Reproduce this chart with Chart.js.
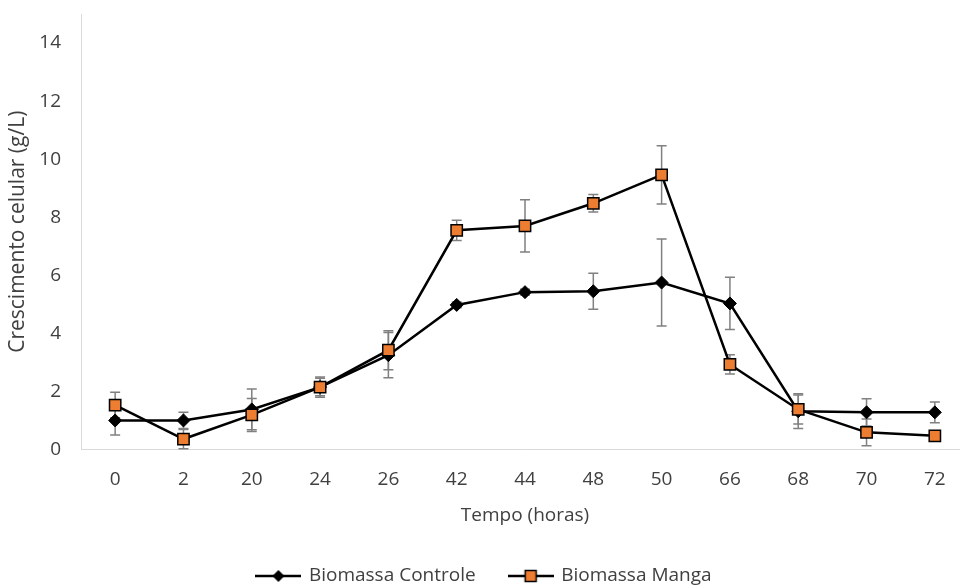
<!DOCTYPE html>
<html>
<head>
<meta charset="utf-8">
<script src="https://cdn.jsdelivr.net/npm/chart.js@4"></script>
<style>
  html, body { margin: 0; padding: 0; background: #fff; overflow: hidden; }
  #wrap { width: 970px; height: 585px; }
</style>
</head>
<body>
<div id="wrap"><canvas id="c" width="970" height="585"></canvas></div>
<script>
// ---- data ----
const categories = ['0', '2', '20', '24', '26', '42', '44', '48', '50', '66', '68', '70', '72'];
const controle    = [1.00, 1.00, 1.38, 2.15, 3.25, 4.98, 5.42, 5.45, 5.75, 5.03, 1.32, 1.28, 1.28];
const controleErr = [0.50, 0.28, 0.70, 0.35, 0.78, 0.10, 0.10, 0.62, 1.50, 0.90, 0.60, 0.47, 0.36];
const manga       = [1.53, 0.36, 1.19, 2.15, 3.42, 7.55, 7.70, 8.48, 9.46, 2.93, 1.38, 0.59, 0.47];
const mangaErr    = [0.44, 0.33, 0.57, 0.30, 0.67, 0.35, 0.90, 0.30, 1.00, 0.33, 0.50, 0.46, 0.10];
const yTicks = [0, 2, 4, 6, 8, 10, 12, 14];
const seriesNames = ['Biomassa Controle', 'Biomassa Manga'];

const FONT = "'Open Sans', 'Liberation Sans', sans-serif";
const TEXT = '#404040';
const ORANGE = '#ED7D31';

function legendIcon(kind) {
  const c = document.createElement('canvas');
  c.width = 46; c.height = 16;
  const g = c.getContext('2d');
  g.strokeStyle = '#000'; g.lineWidth = 2.5;
  g.beginPath(); g.moveTo(0, 8); g.lineTo(46, 8); g.stroke();
  if (kind === 'diamond') {
    g.fillStyle = '#000';
    g.beginPath(); g.moveTo(23, 2); g.lineTo(29, 8); g.lineTo(23, 14); g.lineTo(17, 8); g.closePath(); g.fill();
  } else {
    g.fillStyle = ORANGE; g.lineWidth = 1.5;
    g.fillRect(17.5, 2.5, 11, 11); g.strokeRect(17.5, 2.5, 11, 11);
  }
  return c;
}

const errorBars = {
  id: 'errorBars',
  beforeDatasetsDraw(chart) {
    const ctx = chart.ctx;
    const ys = chart.scales.y;
    const errs = [controleErr, mangaErr];
    const vals = [controle, manga];
    ctx.save();
    ctx.strokeStyle = '#808080';
    ctx.lineWidth = 1.5;
    [0, 1].forEach(d => {
      const meta = chart.getDatasetMeta(d);
      meta.data.forEach((pt, i) => {
        const x = pt.x;
        const t = ys.getPixelForValue(vals[d][i] + errs[d][i]);
        const b = ys.getPixelForValue(vals[d][i] - errs[d][i]);
        ctx.beginPath();
        ctx.moveTo(x, t); ctx.lineTo(x, b);
        ctx.moveTo(x - 5, t); ctx.lineTo(x + 5, t);
        ctx.moveTo(x - 5, b); ctx.lineTo(x + 5, b);
        ctx.stroke();
      });
    });
    ctx.restore();
  }
};

function noPad(s) { s.paddingTop = 0; s.paddingBottom = 0; s.paddingLeft = 0; s.paddingRight = 0; }

new Chart(document.getElementById('c'), {
  type: 'line',
  data: {
    labels: categories,
    datasets: [
      {
        label: seriesNames[0], data: controle, order: 1,
        borderColor: '#000', borderWidth: 2.5, tension: 0,
        pointStyle: 'rectRot', pointRadius: 6.5, pointHoverRadius: 6.5,
        pointBackgroundColor: '#000', pointBorderColor: '#000', pointBorderWidth: 1
      },
      {
        label: seriesNames[1], data: manga, order: 0,
        borderColor: '#000', borderWidth: 2.5, tension: 0,
        pointStyle: 'rect', pointRadius: 8, pointHoverRadius: 8,
        pointBackgroundColor: ORANGE, pointBorderColor: '#000', pointBorderWidth: 1.5
      }
    ]
  },
  options: {
    responsive: false,
    animation: false,
    devicePixelRatio: 1,
    layout: { autoPadding: false, padding: { top: 14, right: 1, bottom: -10.5, left: 0 } },
    plugins: {
      tooltip: { enabled: false },
      legend: {
        position: 'bottom',
        labels: {
          usePointStyle: true,
          pointStyleWidth: 42,
          padding: 34,
          color: TEXT,
          font: { family: FONT, size: 19 },
          generateLabels(chart) {
            return seriesNames.map((n, i) => ({
              text: n, datasetIndex: i,
              pointStyle: legendIcon(i === 0 ? 'diamond' : 'square'),
              fillStyle: '#000', strokeStyle: '#000', lineWidth: 0, hidden: false, fontColor: TEXT
            }));
          }
        }
      }
    },
    scales: {
      x: {
        type: 'category',
        offset: true,
        grid: { display: false, drawTicks: false },
        border: { display: true, color: '#d9d9d9', width: 1 },
        ticks: { color: TEXT, font: { family: FONT, size: 19 }, padding: 18.5, maxRotation: 0, autoSkip: false },
        title: { display: true, text: 'Tempo (horas)', color: TEXT, font: { family: FONT, size: 19 }, padding: { top: 0, bottom: 5.5 } },
        afterFit(s) { s.height = 83; noPad(s); }
      },
      y: {
        min: 0, max: 15,
        grid: { display: false, drawTicks: false },
        border: { display: true, color: '#d9d9d9', width: 1 },
        ticks: { color: TEXT, font: { family: FONT, size: 19 }, padding: 20, stepSize: 2 },
        afterBuildTicks(s) { s.ticks = yTicks.map(v => ({ value: v })); },
        title: { display: true, text: 'Crescimento celular (g/L)', color: TEXT, font: { family: FONT, size: 21 }, padding: { top: 5.5, bottom: 0 } },
        afterFit(s) { s.width = 81; noPad(s); }
      }
    }
  },
  plugins: [errorBars]
});
</script>
</body>
</html>
